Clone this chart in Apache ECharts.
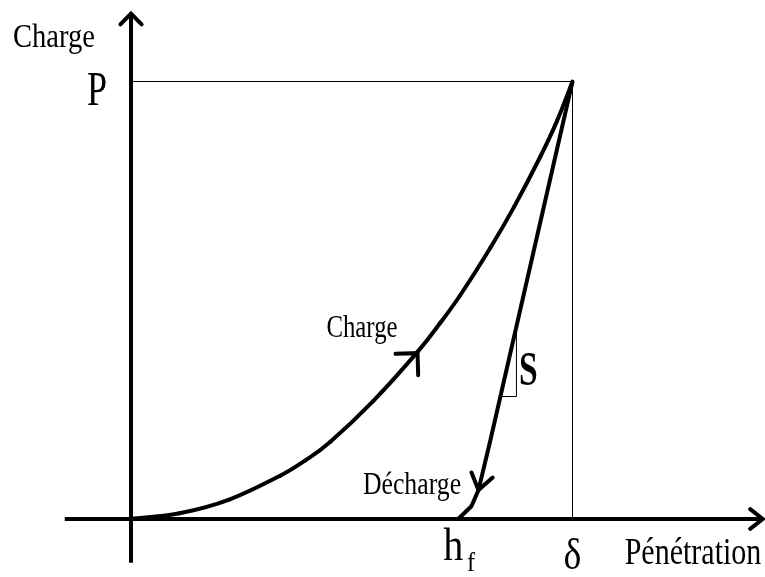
<!DOCTYPE html>
<html>
<head>
<meta charset="utf-8">
<script src="https://cdn.jsdelivr.net/npm/echarts@6/dist/echarts.min.js"></script>
<style>
  html, body { margin: 0; padding: 0; background: #fff; }
  #chart { width: 765px; height: 577px; }
</style>
</head>
<body>
<div id="chart"></div>
<script>
// values in relative units: delta = 100 (penetration), P = 100 (charge)
const P = 100;
const delta = 100;
const hf = 74.1;

const loadCurve = [[0, 0], [11, 1.3], [22.4, 4.5], [33.8, 9.9], [39.5, 13.4], [45.1, 17.6], [54.9, 27.0],
  [64.9, 38.2], [70.1, 44.9], [74.6, 51.2], [81.4, 62.0], [86.8, 71.4], [92.7, 82.8], [96.5, 91.0], [100, 100]];
const unloadCurve = [[100, 100], [81.4, 18], [78.7, 6.6], [77.1, 2.9], [hf, 0]];
const stiffnessTriangle = [[83.7, 28.0], [87.3, 28.0], [87.3, 44.3]];

const xAxisExtent = [[-15, 0], [143.1, 0]];
const yAxisExtent = [[0, -10], [0, 115.5]];

// arrow tip, then a point behind it giving the direction
const arrowTips = [
  [143.1, 0, 100, 0],
  [0, 115.5, 0, 100],
  [64.9, 37.9, 54.9, 27.2],
  [78.7, 6.6, 81.4, 18]
];
const arrowSizes = [[16, 38], [15, 45], [22, 45], [19, 35]];

const chartDom = document.getElementById('chart');
const myChart = echarts.init(chartDom, null, { renderer: 'canvas' });

const thinLine = { color: '#000', width: 1 };
const thickLine = { color: '#000', width: 4 };

function lineSeries(data, lineStyle) {
  return {
    type: 'line',
    data: data,
    symbol: 'none',
    lineStyle: lineStyle,
    silent: true,
    z: 2
  };
}

// load curve: catmull-rom segments between the read points
function renderLoadSegment(params, api) {
  const i = params.dataIndex;
  if (i === 0) return null;
  const n = loadCurve.length;
  const p0 = api.coord(loadCurve[Math.max(i - 2, 0)]);
  const p1 = api.coord(loadCurve[i - 1]);
  const p2 = api.coord(loadCurve[i]);
  const p3 = api.coord(loadCurve[Math.min(i + 1, n - 1)]);
  return {
    type: 'bezierCurve',
    shape: {
      x1: p1[0], y1: p1[1], x2: p2[0], y2: p2[1],
      cpx1: p1[0] + (p2[0] - p0[0]) / 6, cpy1: p1[1] + (p2[1] - p0[1]) / 6,
      cpx2: p2[0] - (p3[0] - p1[0]) / 6, cpy2: p2[1] - (p3[1] - p1[1]) / 6
    },
    style: { stroke: '#000', lineWidth: 4, fill: null, lineCap: 'round' }
  };
}

const option = {
  animation: false,
  backgroundColor: '#fff',
  grid: { left: 0, right: 0, top: 0, bottom: 0 },
  xAxis: { type: 'value', min: -29.67, max: 143.6, show: false },
  yAxis: { type: 'value', min: -13.26, max: 118.63, show: false },
  series: [
    lineSeries([[0, P], [delta, P]], thinLine),
    lineSeries([[delta, P], [delta, 0]], thinLine),
    lineSeries(stiffnessTriangle, thinLine),
    lineSeries(xAxisExtent, thickLine),
    lineSeries(yAxisExtent, thickLine),
    {
      type: 'custom',
      data: loadCurve,
      silent: true,
      z: 2,
      renderItem: renderLoadSegment
    },
    lineSeries(unloadCurve, Object.assign({ join: 'round' }, thickLine)),
    {
      type: 'custom',
      data: arrowTips,
      silent: true,
      z: 3,
      renderItem: function (params, api) {
        const tip = api.coord([api.value(0), api.value(1)]);
        const back = api.coord([api.value(2), api.value(3)]);
        const size = arrowSizes[params.dataIndex];
        const ang = Math.atan2(back[1] - tip[1], back[0] - tip[0]);
        const a = size[1] * Math.PI / 180;
        const p1 = [tip[0] + size[0] * Math.cos(ang + a), tip[1] + size[0] * Math.sin(ang + a)];
        const p2 = [tip[0] + size[0] * Math.cos(ang - a), tip[1] + size[0] * Math.sin(ang - a)];
        return {
          type: 'polyline',
          shape: { points: [p1, tip, p2] },
          style: { stroke: '#000', lineWidth: 4, fill: null, lineJoin: 'miter', lineCap: 'round' }
        };
      }
    }
  ]
};

myChart.setOption(option);

// text labels, placed from the data positions
const serif = '"Liberation Serif", "Times New Roman", serif';
function label(text, x, y, size, sx, bold) {
  return {
    type: 'text',
    x: x,
    y: y,
    scaleX: sx,
    z: 10,
    style: {
      text: text,
      fontFamily: serif,
      fontSize: size,
      fontWeight: bold ? 'bold' : 'normal',
      fill: '#000',
      align: 'center',
      verticalAlign: 'middle'
    }
  };
}

const origin = myChart.convertToPixel({ gridIndex: 0 }, [0, 0]);
const peak = myChart.convertToPixel({ gridIndex: 0 }, [delta, P]);
const hfPx = myChart.convertToPixel({ gridIndex: 0 }, [hf, 0]);
const sPx = myChart.convertToPixel({ gridIndex: 0 }, stiffnessTriangle[1]);

myChart.setOption({
  graphic: [
    label('Charge', 54, 37.6, 34, 0.84),
    label('P', origin[0] - 34, peak[1] + 11, 48, 0.75),
    label('Charge', 362, 329, 31, 0.8),
    label('Décharge', 412, 486, 31, 0.83),
    label('δ', peak[0], origin[1] + 38, 44, 0.86),
    label('h', hfPx[0] - 5, origin[1] + 29, 46, 0.87),
    label('f', hfPx[0] + 13, origin[1] + 45, 28, 0.87),
    label('Pénétration', 693, 554, 38, 0.79),
    label('S', sPx[0] + 12, 373, 48, 0.7, true)
  ]
});
</script>
</body>
</html>
